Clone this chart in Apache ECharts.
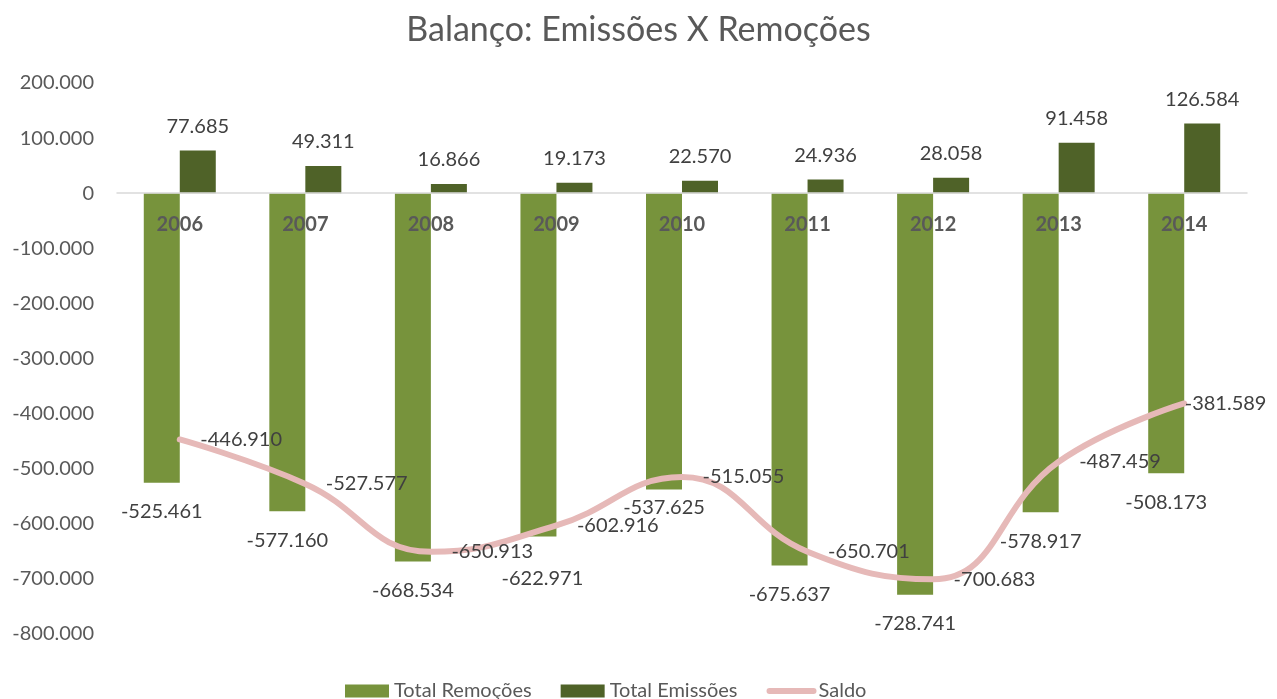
<!DOCTYPE html>
<html>
<head>
<meta charset="utf-8">
<script src="https://cdn.jsdelivr.net/npm/echarts@6/dist/echarts.min.js"></script>
<style>
  html, body { margin: 0; padding: 0; background: #fff; }
  #main { width: 1277px; height: 699px; }
</style>
</head>
<body>
<div id="main"></div>
<script>
var anos = ['2006', '2007', '2008', '2009', '2010', '2011', '2012', '2013', '2014'];
var totalRemocoes = [-525461, -577160, -668534, -622971, -537625, -675637, -728741, -578917, -508173];
var totalEmissoes = [77685, 49311, 16866, 19173, 22570, 24936, 28058, 91458, 126584];
var saldo = [-446910, -527577, -650913, -602916, -515055, -650701, -700683, -487459, -381589];

var fonte = 'Lato, "Open Sans", sans-serif';

// 1234567 -> "1.234.567"
function fmt(v) {
	var s = String(Math.abs(Math.round(v)));
	s = s.replace(/\B(?=(\d{3})+(?!\d))/g, '.');
	return (v < 0 ? '-' : '') + s;
}

var chart = echarts.init(document.getElementById('main'));

// a few labels in the original were nudged by hand
var remocoesData = totalRemocoes.map(function (v, i) {
	var item = { value: v };
	if (i === 3) item.label = { distance: 32, offset: [4, 0] };
	if (i === 4) item.label = { distance: 8 };
	return item;
});
var saldoData = saldo.map(function (v, i) {
	var item = { value: v };
	if (i === 8) item.label = { distance: 0 };
	return item;
});

var option = {
	animation: false,
	textStyle: { fontFamily: fonte },
	title: {
		text: 'Balanço: Emissões X Remoções',
		left: 'center',
		top: 8,
		textStyle: { fontFamily: fonte, fontSize: 34, fontWeight: 'normal', color: '#595959' }
	},
	legend: {
		top: 676,
		left: 340,
		itemWidth: 44,
		itemHeight: 13,
		itemGap: 29,
		textStyle: { fontFamily: fonte, fontSize: 20, color: '#595959' },
		data: [
			{ name: 'Total Remoções', icon: 'rect' },
			{ name: 'Total Emissões', icon: 'rect' },
			{ name: 'Saldo', itemStyle: { opacity: 0 }, lineStyle: { width: 6, cap: 'round' } }
		]
	},
	grid: { left: 117, right: 30, top: 83, bottom: 65 },
	xAxis: {
		type: 'category',
		data: anos,
		z: 10,
		axisLine: { onZero: true, lineStyle: { color: '#d9d9d9', width: 1.5 } },
		axisTick: { show: false },
		// year labels sit just under the zero line, over the bars
		axisLabel: { margin: -419, fontSize: 20, fontWeight: 'bold', color: '#595959', fontFamily: fonte }
	},
	yAxis: {
		type: 'value',
		min: -800000,
		max: 200000,
		interval: 100000,
		splitLine: { show: false },
		axisLine: { show: false },
		axisTick: { show: false },
		axisLabel: { margin: 23, fontSize: 20, color: '#595959', fontFamily: fonte, formatter: fmt }
	},
	series: [
		{
			name: 'Total Remoções',
			type: 'bar',
			barWidth: 36,
			barGap: '0%',
			data: remocoesData,
			itemStyle: { color: '#77933c' },
			label: {
				show: true, position: 'bottom', distance: 19,
				fontSize: 20, color: '#404040', fontFamily: fonte,
				formatter: function (p) { return fmt(p.value); }
			}
		},
		{
			name: 'Total Emissões',
			type: 'bar',
			barWidth: 36,
			barGap: '0%',
			data: totalEmissoes,
			itemStyle: { color: '#4f6228' },
			label: {
				show: true, position: 'top', distance: 14,
				fontSize: 20, color: '#404040', fontFamily: fonte,
				formatter: function (p) { return fmt(p.value); }
			}
		},
		{
			name: 'Saldo',
			type: 'line',
			smooth: 0.45,
			data: saldoData,
			symbol: 'circle',
			symbolSize: 1,
			z: 5,
			itemStyle: { color: '#e6b9b8' },
			lineStyle: { color: '#e6b9b8', width: 6, cap: 'round' },
			label: {
				show: true, position: 'right', distance: 20,
				fontSize: 20, color: '#404040', fontFamily: fonte,
				formatter: function (p) { return fmt(p.value); }
			}
		}
	]
};

chart.setOption(option);
</script>
</body>
</html>
